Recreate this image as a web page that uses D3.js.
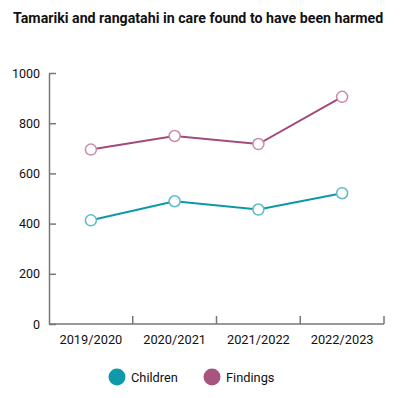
<!DOCTYPE html>
<html>
<head>
<meta charset="utf-8">
<script src="https://cdn.jsdelivr.net/npm/d3@7"></script>
<style>
    body { margin: 0; background: #fff; }
    svg text { font-family: Roboto, sans-serif; }
</style>
</head>
<body>
<svg id="chart"></svg>
<script>
const YEARS = ['2019/2020', '2020/2021', '2021/2022', '2022/2023'];
const CHILDREN = [413, 489, 456, 521];
const FINDINGS = [695, 749, 717, 905];
const Y_TICKS = [0, 200, 400, 600, 800, 1000];

const SERIES = [
    { name: 'Children', values: CHILDREN, line: '#0b99a8', marker: '#5bbcc6' },
    { name: 'Findings', values: FINDINGS, line: '#a24a7b', marker: '#c98cad' }
];

const WIDTH = 400;
const HEIGHT = 398;
const MARGINS = { top: 73, right: 16, bottom: 74, left: 49 };

const svg = d3.select('#chart')
    .attr('width', WIDTH)
    .attr('height', HEIGHT);

svg.append('text')
    .attr('x', 13)
    .attr('y', 23)
    .attr('font-size', 14.2)
    .attr('font-weight', 'bold')
    .attr('fill', '#111')
    .text('Tamariki and rangatahi in care found to have been harmed');

const xScale = d3.scaleBand()
    .domain(YEARS)
    .range([MARGINS.left, WIDTH - MARGINS.right]);

const yScale = d3.scaleLinear()
    .domain([0, 1000])
    .range([HEIGHT - MARGINS.bottom, MARGINS.top]);

// y axis, ticks point inward
const yAxis = svg.append('g')
    .attr('transform', `translate(${MARGINS.left},0)`)
    .call(d3.axisLeft(yScale).tickValues(Y_TICKS).tickFormat(d3.format('d'))
        .tickSize(-7).tickSizeOuter(0).tickPadding(9));
yAxis.select('.domain').attr('stroke', '#777').attr('stroke-width', 1.5);
yAxis.selectAll('.tick line').attr('stroke', '#777').attr('stroke-width', 1.5);
yAxis.selectAll('.tick text').attr('font-size', 12.5).attr('fill', '#111').attr('font-family', 'Roboto, sans-serif');

// x axis with tick marks at band edges
const xAxisG = svg.append('g')
    .attr('transform', `translate(0,${yScale(0)})`);
xAxisG.append('line')
    .attr('x1', MARGINS.left)
    .attr('x2', WIDTH - MARGINS.right)
    .attr('stroke', '#777')
    .attr('stroke-width', 1.5);
const edges = YEARS.map(d => xScale(d)).concat([xScale(YEARS[YEARS.length - 1]) + xScale.bandwidth()]);
xAxisG.selectAll('.edge')
    .data(edges.slice(1))
    .enter()
    .append('line')
    .attr('x1', d => d)
    .attr('x2', d => d)
    .attr('y1', 0)
    .attr('y2', -8)
    .attr('stroke', '#777')
    .attr('stroke-width', 1.5);
xAxisG.selectAll('.label')
    .data(YEARS)
    .enter()
    .append('text')
    .attr('x', d => xScale(d) + xScale.bandwidth() / 2)
    .attr('y', 20)
    .attr('text-anchor', 'middle')
    .attr('font-size', 12.8)
    .attr('fill', '#111')
    .text(d => d);

const line = d3.line()
    .x((d, i) => xScale(YEARS[i]) + xScale.bandwidth() / 2)
    .y(d => yScale(d));

SERIES.forEach(s => {
    svg.append('path')
        .datum(s.values)
        .attr('d', line)
        .attr('fill', 'none')
        .attr('stroke', s.line)
        .attr('stroke-width', 2);

    svg.selectAll(null)
        .data(s.values)
        .enter()
        .append('circle')
        .attr('cx', (d, i) => xScale(YEARS[i]) + xScale.bandwidth() / 2)
        .attr('cy', d => yScale(d))
        .attr('r', 5.5)
        .attr('fill', '#fff')
        .attr('stroke', s.marker)
        .attr('stroke-width', 1.5);
});

// legend
const legendX = [117, 212];
const legend = svg.selectAll('.legend')
    .data(SERIES)
    .enter()
    .append('g')
    .attr('transform', (d, i) => `translate(${legendX[i]},377)`);
legend.append('circle')
    .attr('r', 8.5)
    .attr('fill', (d, i) => i === 0 ? '#0e9aab' : '#a8547f');
legend.append('text')
    .attr('x', 14)
    .attr('y', 4.5)
    .attr('font-size', 12.8)
    .attr('fill', '#111')
    .text(d => d.name);
</script>
</body>
</html>
